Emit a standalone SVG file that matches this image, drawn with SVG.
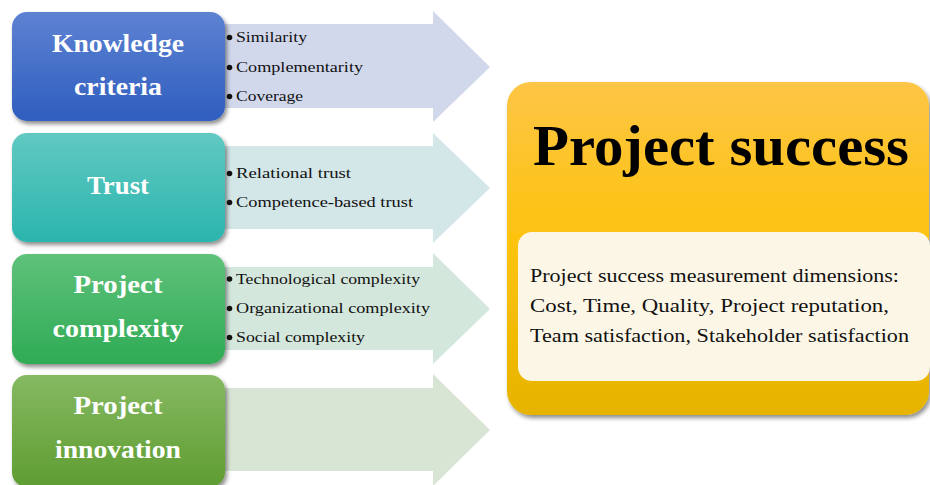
<svg xmlns="http://www.w3.org/2000/svg" width="930" height="485" viewBox="0 0 930 485">
<defs>
<linearGradient id="g1" x1="0" y1="0" x2="0" y2="1"><stop offset="0" stop-color="#5d82d2"/><stop offset="1" stop-color="#2f5ebf"/></linearGradient>
<linearGradient id="g2" x1="0" y1="0" x2="0" y2="1"><stop offset="0" stop-color="#60c9c2"/><stop offset="1" stop-color="#2bb5ad"/></linearGradient>
<linearGradient id="g3" x1="0" y1="0" x2="0" y2="1"><stop offset="0" stop-color="#5fc17b"/><stop offset="1" stop-color="#2fab54"/></linearGradient>
<linearGradient id="g4" x1="0" y1="0" x2="0" y2="1"><stop offset="0" stop-color="#86b962"/><stop offset="1" stop-color="#5e9d31"/></linearGradient>
<linearGradient id="g5" x1="0" y1="0" x2="0" y2="1"><stop offset="0" stop-color="#fdc545"/><stop offset="0.5" stop-color="#fdc30c"/><stop offset="1" stop-color="#e6b300"/></linearGradient>
<filter id="sh" x="-10%" y="-10%" width="125%" height="130%"><feDropShadow dx="2" dy="3" stdDeviation="2" flood-color="#000" flood-opacity="0.45"/></filter>
<style>
.h{font-family:"Liberation Serif","DejaVu Serif",serif;font-weight:bold;font-size:26px;fill:#fff;text-anchor:middle}
.b{font-family:"Liberation Serif","DejaVu Serif",serif;font-size:15.5px;fill:#111}
.t{font-family:"Liberation Serif","DejaVu Serif",serif;font-size:18.5px;fill:#111}
</style>
</defs>
<g id="connectors">
<polygon points="225,24 433,24 433,11 490,67 433,122 433,108 225,108" fill="#d2d8ec"/>
<polygon points="225,146 433,146 433,133 490,188 433,243 433,229 225,229" fill="#d3e6e8"/>
<polygon points="225,267 433,267 433,253 490,309 433,364 433,350 225,350" fill="#d4e7dc"/>
<polygon points="225,388 433,388 433,374 490,430 433,486 433,471 225,471" fill="#d9e5d4"/>
</g>
<g id="knowledge">
<rect x="12" y="12" width="213" height="109" rx="15" fill="url(#g1)" filter="url(#sh)"/>
<text class="h" x="118" y="52" textLength="132" lengthAdjust="spacingAndGlyphs">Knowledge</text>
<text class="h" x="118" y="95" textLength="88" lengthAdjust="spacingAndGlyphs">criteria</text>
<g class="b">
<circle cx="229.5" cy="37.5" r="2.8" fill="#111"/><text x="236" y="42" textLength="71" lengthAdjust="spacingAndGlyphs">Similarity</text>
<circle cx="229.5" cy="67.5" r="2.8" fill="#111"/><text x="236" y="72" textLength="127" lengthAdjust="spacingAndGlyphs">Complementarity</text>
<circle cx="229.5" cy="96.5" r="2.8" fill="#111"/><text x="236" y="101" textLength="67" lengthAdjust="spacingAndGlyphs">Coverage</text>
</g>
</g>
<g id="trust">
<rect x="12" y="133" width="213" height="109" rx="15" fill="url(#g2)" filter="url(#sh)"/>
<text class="h" x="118" y="194" textLength="62" lengthAdjust="spacingAndGlyphs">Trust</text>
<g class="b">
<circle cx="229.5" cy="173.5" r="2.8" fill="#111"/><text x="236" y="178" textLength="115" lengthAdjust="spacingAndGlyphs">Relational trust</text>
<circle cx="229.5" cy="202.5" r="2.8" fill="#111"/><text x="236" y="207" textLength="177" lengthAdjust="spacingAndGlyphs">Competence-based trust</text>
</g>
</g>
<g id="complexity">
<rect x="12" y="254" width="213" height="110" rx="15" fill="url(#g3)" filter="url(#sh)"/>
<text class="h" x="118" y="293" textLength="89" lengthAdjust="spacingAndGlyphs">Project</text>
<text class="h" x="118" y="337" textLength="131" lengthAdjust="spacingAndGlyphs">complexity</text>
<g class="b">
<circle cx="229.5" cy="279" r="2.8" fill="#111"/><text x="236" y="283.5" textLength="184" lengthAdjust="spacingAndGlyphs">Technological complexity</text>
<circle cx="229.5" cy="308.5" r="2.8" fill="#111"/><text x="236" y="313" textLength="194" lengthAdjust="spacingAndGlyphs">Organizational complexity</text>
<circle cx="229.5" cy="337.5" r="2.8" fill="#111"/><text x="236" y="342" textLength="129" lengthAdjust="spacingAndGlyphs">Social complexity</text>
</g>
</g>
<g id="innovation">
<rect x="12" y="375" width="213" height="112" rx="15" fill="url(#g4)" filter="url(#sh)"/>
<text class="h" x="118" y="414" textLength="89" lengthAdjust="spacingAndGlyphs">Project</text>
<text class="h" x="118" y="458" textLength="126" lengthAdjust="spacingAndGlyphs">innovation</text>
</g>
<g id="success">
<rect x="507" y="82" width="422" height="333" rx="24" fill="url(#g5)" filter="url(#sh)"/>
<text x="721" y="165" font-family="Liberation Serif, DejaVu Serif, serif" font-weight="bold" font-size="56" fill="#000" text-anchor="middle" textLength="376" lengthAdjust="spacingAndGlyphs">Project success</text>
<rect x="518" y="232" width="412" height="149" rx="14" fill="#fcf6e6"/>
<text class="t" x="530" y="282" textLength="369" lengthAdjust="spacingAndGlyphs">Project success measurement dimensions:</text>
<text class="t" x="530" y="312" textLength="359" lengthAdjust="spacingAndGlyphs">Cost, Time, Quality, Project reputation,</text>
<text class="t" x="530" y="342" textLength="379" lengthAdjust="spacingAndGlyphs">Team satisfaction, Stakeholder satisfaction</text>
</g>
</svg>
